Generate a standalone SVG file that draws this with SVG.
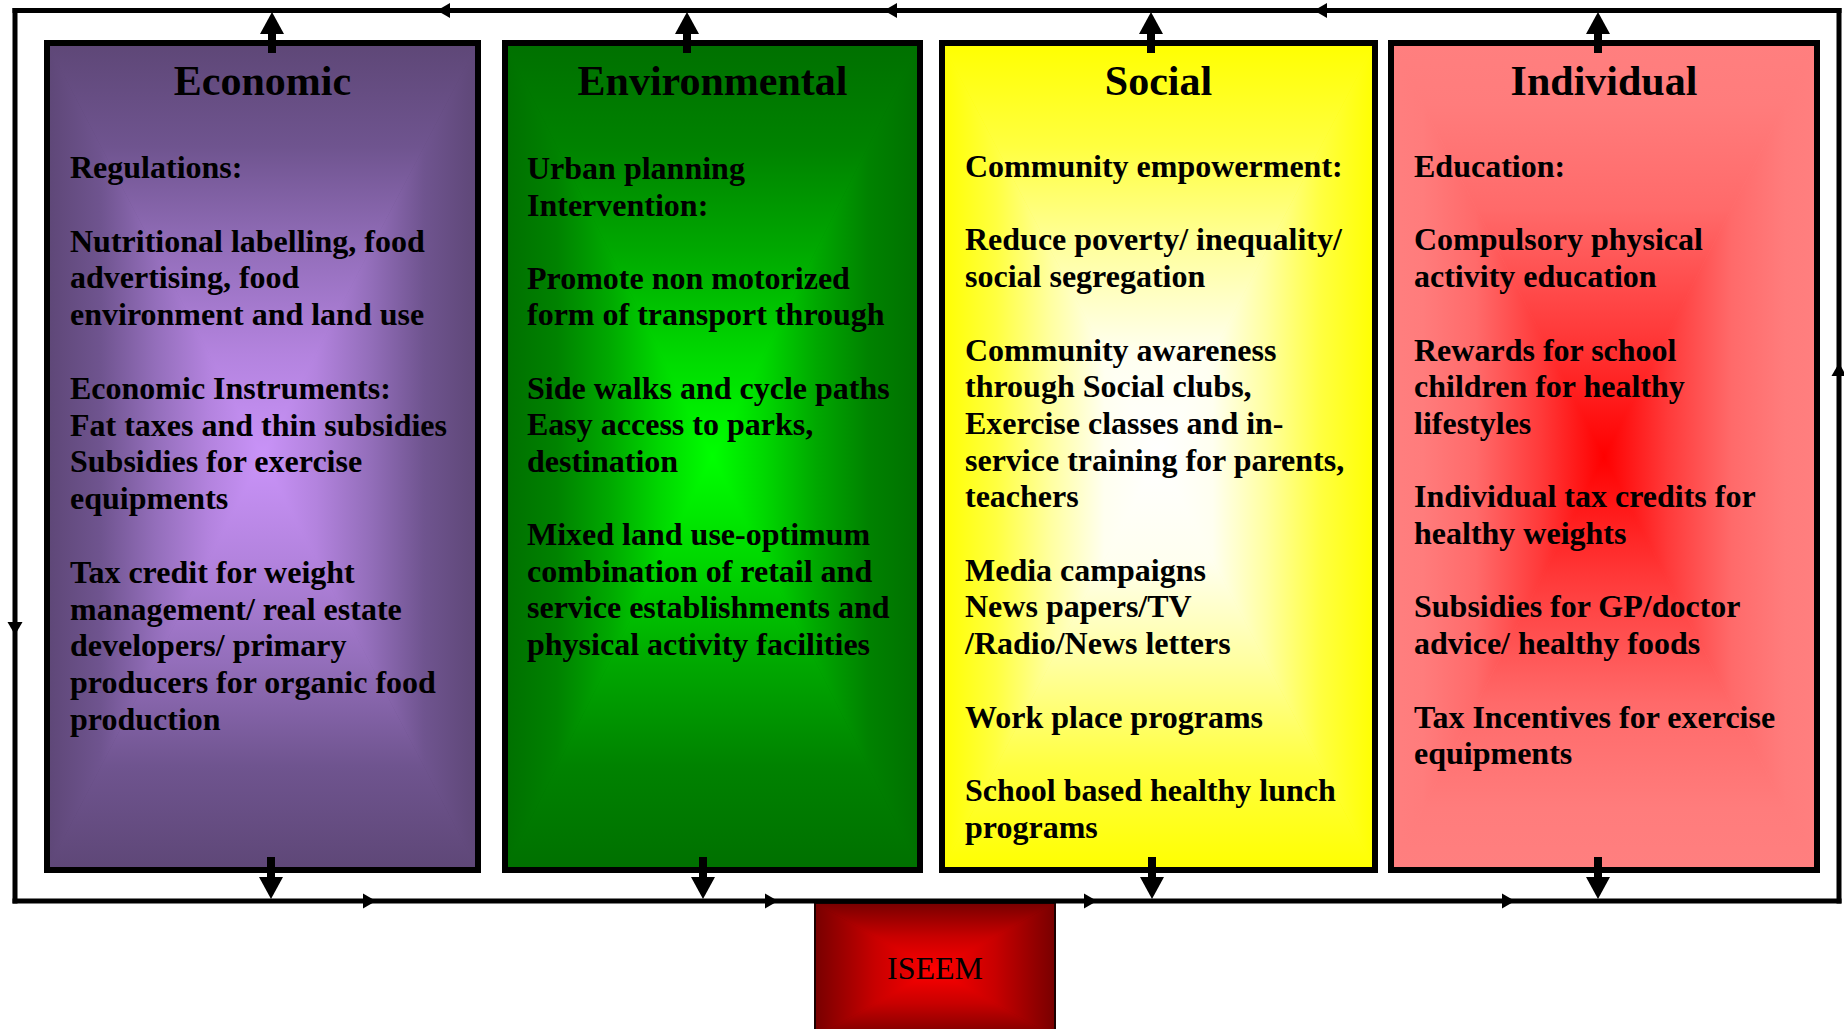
<svg xmlns="http://www.w3.org/2000/svg" width="1844" height="1029" viewBox="0 0 1844 1029">
  <style>
    .box { fill: none; stroke: #000; stroke-width: 6; }
    .title { font-family: "Liberation Serif", "Times New Roman", serif; font-weight: bold; font-size: 42px; text-anchor: middle; fill: #000; }
    .body { font-family: "Liberation Serif", "Times New Roman", serif; font-weight: bold; font-size: 32px; fill: #000; }
    .label { font-family: "Liberation Serif", "Times New Roman", serif; font-size: 32px; text-anchor: middle; fill: #000; }
    .loop { fill: none; stroke: #000; stroke-width: 5; stroke-linecap: square; marker-mid: url(#flow); }
    .link { fill: none; stroke: #000; stroke-width: 8; marker-end: url(#head); }
  </style>
  <defs>
    <!-- colour ramps: offset 0 = centre of the box, offset 1 = its edge -->
    <linearGradient id="eco">
      <stop offset="0" stop-color="#c993f8"/>
      <stop offset="0.25" stop-color="#b383de"/>
      <stop offset="0.5" stop-color="#936eba"/>
      <stop offset="0.75" stop-color="#6f548f"/>
      <stop offset="1" stop-color="#5e4777"/>
    </linearGradient>
    <linearGradient id="env">
      <stop offset="0" stop-color="#00ff00"/>
      <stop offset="0.25" stop-color="#00d800"/>
      <stop offset="0.5" stop-color="#00a800"/>
      <stop offset="0.75" stop-color="#008200"/>
      <stop offset="1" stop-color="#007000"/>
    </linearGradient>
    <linearGradient id="soc">
      <stop offset="0" stop-color="#ffffff"/>
      <stop offset="0.25" stop-color="#fffff0"/>
      <stop offset="0.5" stop-color="#ffffa0"/>
      <stop offset="0.75" stop-color="#ffff40"/>
      <stop offset="1" stop-color="#ffff00"/>
    </linearGradient>
    <linearGradient id="ind">
      <stop offset="0" stop-color="#ff0000"/>
      <stop offset="0.3" stop-color="#ff3a3a"/>
      <stop offset="0.6" stop-color="#ff6a6a"/>
      <stop offset="0.85" stop-color="#ff7c7c"/>
      <stop offset="1" stop-color="#ff7f7f"/>
    </linearGradient>
    <linearGradient id="ise">
      <stop offset="0" stop-color="#ff0000"/>
      <stop offset="0.5" stop-color="#c80000"/>
      <stop offset="1" stop-color="#780000"/>
    </linearGradient>

    <!-- rectangular "from centre" shading: one ramp per quarter triangle -->
    <linearGradient id="eco-t" href="#eco" x1="0" y1="1" x2="0" y2="0"/>
    <linearGradient id="eco-b" href="#eco" x1="0" y1="0" x2="0" y2="1"/>
    <linearGradient id="eco-l" href="#eco" x1="1" y1="0" x2="0" y2="0"/>
    <linearGradient id="eco-r" href="#eco" x1="0" y1="0" x2="1" y2="0"/>
    <radialGradient id="eco-c" href="#eco" cx="0.5" cy="0.5" r="0.6"/>

    <linearGradient id="env-t" href="#env" x1="0" y1="1" x2="0" y2="0"/>
    <linearGradient id="env-b" href="#env" x1="0" y1="0" x2="0" y2="1"/>
    <linearGradient id="env-l" href="#env" x1="1" y1="0" x2="0" y2="0"/>
    <linearGradient id="env-r" href="#env" x1="0" y1="0" x2="1" y2="0"/>
    <radialGradient id="env-c" href="#env" cx="0.5" cy="0.5" r="0.6"/>

    <linearGradient id="soc-t" href="#soc" x1="0" y1="1" x2="0" y2="0"/>
    <linearGradient id="soc-b" href="#soc" x1="0" y1="0" x2="0" y2="1"/>
    <linearGradient id="soc-l" href="#soc" x1="1" y1="0" x2="0" y2="0"/>
    <linearGradient id="soc-r" href="#soc" x1="0" y1="0" x2="1" y2="0"/>
    <radialGradient id="soc-c" href="#soc" cx="0.5" cy="0.5" r="0.6"/>

    <linearGradient id="ind-t" href="#ind" x1="0" y1="1" x2="0" y2="0"/>
    <linearGradient id="ind-b" href="#ind" x1="0" y1="0" x2="0" y2="1"/>
    <linearGradient id="ind-l" href="#ind" x1="1" y1="0" x2="0" y2="0"/>
    <linearGradient id="ind-r" href="#ind" x1="0" y1="0" x2="1" y2="0"/>
    <radialGradient id="ind-c" href="#ind" cx="0.5" cy="0.5" r="0.6"/>

    <linearGradient id="ise-t" href="#ise" x1="0" y1="1" x2="0" y2="0"/>
    <linearGradient id="ise-b" href="#ise" x1="0" y1="0" x2="0" y2="1"/>
    <linearGradient id="ise-l" href="#ise" x1="1" y1="0" x2="0" y2="0"/>
    <linearGradient id="ise-r" href="#ise" x1="0" y1="0" x2="1" y2="0"/>
    <radialGradient id="ise-c" href="#ise" cx="0.5" cy="0.5" r="0.6"/>

    <!-- broad arrowhead for the box links (base at the line end) -->
    <marker id="head" markerUnits="userSpaceOnUse" markerWidth="22" markerHeight="24" refX="0" refY="12" orient="auto" overflow="visible">
      <path d="M0,0 L22,12 L0,24 Z" fill="#000"/>
    </marker>
    <!-- small direction marks on the surrounding loop (tip at the vertex) -->
    <marker id="flow" markerUnits="userSpaceOnUse" markerWidth="13" markerHeight="15" refX="13" refY="7.5" orient="auto" overflow="visible">
      <path d="M0,0 L13,7.5 L0,15 Z" fill="#000"/>
    </marker>
  </defs>

  <rect width="1844" height="1029" fill="#fff"/>

  <!-- ISEEM -->
  <g id="iseem">
    <rect x="815" y="903" width="240" height="134" fill="url(#ise-c)"/>
    <polygon points="815,903 1055,903 935,970" fill="url(#ise-t)"/>
    <polygon points="815,1037 1055,1037 935,970" fill="url(#ise-b)"/>
    <polygon points="815,903 815,1037 935,970" fill="url(#ise-l)"/>
    <polygon points="1055,903 1055,1037 935,970" fill="url(#ise-r)"/>
    <rect x="815" y="903" width="240" height="134" fill="none" stroke="#1a0000" stroke-width="2"/>
    <text class="label" x="935" y="979">ISEEM</text>
  </g>

  <!-- Economic -->
  <g id="economic">
    <rect x="47" y="43" width="431" height="827" fill="url(#eco-c)"/>
    <polygon points="47,43 478,43 262.5,456.5" fill="url(#eco-t)"/>
    <polygon points="47,870 478,870 262.5,456.5" fill="url(#eco-b)"/>
    <polygon points="47,43 47,870 262.5,456.5" fill="url(#eco-l)"/>
    <polygon points="478,43 478,870 262.5,456.5" fill="url(#eco-r)"/>
    <rect class="box" x="47" y="43" width="431" height="827"/>
    <text class="title" x="262.5" y="95">Economic</text>
    <text class="body">
      <tspan x="70" y="178">Regulations:</tspan>
      <tspan x="70" y="251.6">Nutritional labelling, food</tspan>
      <tspan x="70" y="288.4">advertising, food</tspan>
      <tspan x="70" y="325.2">environment and land use</tspan>
      <tspan x="70" y="398.8">Economic Instruments:</tspan>
      <tspan x="70" y="435.6">Fat taxes and thin subsidies</tspan>
      <tspan x="70" y="472.4">Subsidies for exercise</tspan>
      <tspan x="70" y="509.2">equipments</tspan>
      <tspan x="70" y="582.8">Tax credit for weight</tspan>
      <tspan x="70" y="619.6">management/ real estate</tspan>
      <tspan x="70" y="656.4">developers/ primary</tspan>
      <tspan x="70" y="693.2">producers for organic food</tspan>
      <tspan x="70" y="730">production</tspan>
    </text>
  </g>

  <!-- Environmental -->
  <g id="environmental">
    <rect x="505" y="43" width="415" height="827" fill="url(#env-c)"/>
    <polygon points="505,43 920,43 712.5,456.5" fill="url(#env-t)"/>
    <polygon points="505,870 920,870 712.5,456.5" fill="url(#env-b)"/>
    <polygon points="505,43 505,870 712.5,456.5" fill="url(#env-l)"/>
    <polygon points="920,43 920,870 712.5,456.5" fill="url(#env-r)"/>
    <rect class="box" x="505" y="43" width="415" height="827"/>
    <text class="title" x="712.5" y="95">Environmental</text>
    <text class="body">
      <tspan x="527" y="179">Urban planning</tspan>
      <tspan x="527" y="215.6">Intervention:</tspan>
      <tspan x="527" y="288.8">Promote non motorized</tspan>
      <tspan x="527" y="325.4">form of transport through</tspan>
      <tspan x="527" y="398.6">Side walks and cycle paths</tspan>
      <tspan x="527" y="435.2">Easy access to parks,</tspan>
      <tspan x="527" y="471.8">destination</tspan>
      <tspan x="527" y="545">Mixed land use-optimum</tspan>
      <tspan x="527" y="581.6">combination of retail and</tspan>
      <tspan x="527" y="618.2">service establishments and</tspan>
      <tspan x="527" y="654.8">physical activity facilities</tspan>
    </text>
  </g>

  <!-- Social -->
  <g id="social">
    <rect x="942" y="43" width="433" height="827" fill="url(#soc-c)"/>
    <polygon points="942,43 1375,43 1158.5,456.5" fill="url(#soc-t)"/>
    <polygon points="942,870 1375,870 1158.5,456.5" fill="url(#soc-b)"/>
    <polygon points="942,43 942,870 1158.5,456.5" fill="url(#soc-l)"/>
    <polygon points="1375,43 1375,870 1158.5,456.5" fill="url(#soc-r)"/>
    <rect class="box" x="942" y="43" width="433" height="827"/>
    <text class="title" x="1158.5" y="95">Social</text>
    <text class="body">
      <tspan x="965" y="177">Community empowerment:</tspan>
      <tspan x="965" y="250.4">Reduce poverty/ inequality/</tspan>
      <tspan x="965" y="287.1">social segregation</tspan>
      <tspan x="965" y="360.5">Community awareness</tspan>
      <tspan x="965" y="397.2">through Social clubs,</tspan>
      <tspan x="965" y="433.9">Exercise classes and in-</tspan>
      <tspan x="965" y="470.6">service training for parents,</tspan>
      <tspan x="965" y="507.3">teachers</tspan>
      <tspan x="965" y="580.7">Media campaigns</tspan>
      <tspan x="965" y="617.4">News papers/TV</tspan>
      <tspan x="965" y="654.1">/Radio/News letters</tspan>
      <tspan x="965" y="727.5">Work place programs</tspan>
      <tspan x="965" y="800.9">School based healthy lunch</tspan>
      <tspan x="965" y="837.6">programs</tspan>
    </text>
  </g>

  <!-- Individual -->
  <g id="individual">
    <rect x="1391" y="43" width="426" height="827" fill="url(#ind-c)"/>
    <polygon points="1391,43 1817,43 1604,456.5" fill="url(#ind-t)"/>
    <polygon points="1391,870 1817,870 1604,456.5" fill="url(#ind-b)"/>
    <polygon points="1391,43 1391,870 1604,456.5" fill="url(#ind-l)"/>
    <polygon points="1817,43 1817,870 1604,456.5" fill="url(#ind-r)"/>
    <rect class="box" x="1391" y="43" width="426" height="827"/>
    <text class="title" x="1604" y="95">Individual</text>
    <text class="body">
      <tspan x="1414" y="177">Education:</tspan>
      <tspan x="1414" y="250.4">Compulsory physical</tspan>
      <tspan x="1414" y="287.1">activity education</tspan>
      <tspan x="1414" y="360.5">Rewards for school</tspan>
      <tspan x="1414" y="397.2">children for healthy</tspan>
      <tspan x="1414" y="433.9">lifestyles</tspan>
      <tspan x="1414" y="507.3">Individual tax credits for</tspan>
      <tspan x="1414" y="544">healthy weights</tspan>
      <tspan x="1414" y="617.4">Subsidies for GP/doctor</tspan>
      <tspan x="1414" y="654.1">advice/ healthy foods</tspan>
      <tspan x="1414" y="727.5">Tax Incentives for exercise</tspan>
      <tspan x="1414" y="764.2">equipments</tspan>
    </text>
  </g>

  <!-- connectors -->
  <g id="connectors">
    <!-- surrounding loop, running anticlockwise -->
    <path class="loop" d="M1839,10.5 H1314 H884 H437 H15"/>
    <path class="loop" d="M15,10.5 V635 V901"/>
    <path class="loop" d="M15,901 H376 H778 H1097 H1515 H1839"/>
    <path class="loop" d="M1839,901 V363 V10.5"/>
    <!-- boxes up to the loop -->
    <path class="link" d="M272,53 V34"/>
    <path class="link" d="M687,53 V34"/>
    <path class="link" d="M1151,53 V34"/>
    <path class="link" d="M1598,53 V34"/>
    <!-- boxes down to the loop -->
    <path class="link" d="M271,857 V877"/>
    <path class="link" d="M703,857 V877"/>
    <path class="link" d="M1152,857 V877"/>
    <path class="link" d="M1598,857 V877"/>
  </g>
</svg>
